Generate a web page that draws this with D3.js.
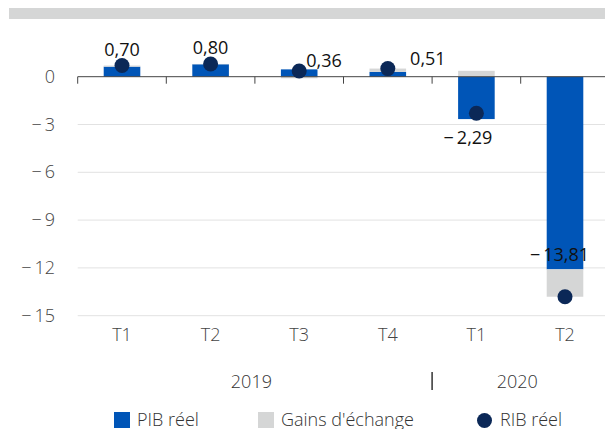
<!DOCTYPE html>
<html>
<head>
<meta charset="utf-8">
<script src="https://cdn.jsdelivr.net/npm/d3@7"></script>
<style>
  body { margin: 0; background: #fff; }
  svg { display: block; font-family: "Open Sans", sans-serif; }
</style>
</head>
<body>
<div id="chart"></div>
<script>
// data
const quarters = ["T1", "T2", "T3", "T4", "T1", "T2"];
const years = ["2019", "2019", "2019", "2019", "2020", "2020"];
const pib = [0.63, 0.78, 0.46, 0.30, -2.66, -12.09];
const gains = [0.07, 0.02, -0.10, 0.21, 0.37, -1.72];
const rib = [0.70, 0.80, 0.36, 0.51, -2.29, -13.81];
const yTicks = [0, -3, -6, -9, -12, -15];
const labelSide = ["above", "above", "right", "rightOfBar", "below", "left"];

const width = 605, height = 429;
const blue = "#0055b7", grey = "#d5d6d6", navy = "#0b2857";

const svg = d3.select("#chart").append("svg")
    .attr("width", width)
    .attr("height", height);

// banner strip on top
svg.append("rect")
    .attr("x", 9).attr("y", 8)
    .attr("width", width - 9).attr("height", 11)
    .attr("fill", "#d5d6d6");

const rows = quarters.map((q, i) => ({i: i, q: q, year: years[i], pib: pib[i], gains: gains[i], rib: rib[i]}));

const x = d3.scaleBand()
    .domain(d3.range(rows.length))
    .range([77.7, 609.3]);

const y = d3.scaleLinear()
    .domain([-15, 0])
    .range([315.7, 76.7]);

// grid
svg.append("g")
  .selectAll("line")
  .data(yTicks.filter(d => d !== 0))
  .enter().append("line")
    .attr("x1", 77.7).attr("x2", width)
    .attr("y1", d => y(d)).attr("y2", d => y(d))
    .style("stroke", "#e2e2e2")
    .style("stroke-width", "1px");

// y labels
const fmt = v => (v < 0 ? "\u2212\u2009" : "") + Math.abs(v);
svg.append("g")
  .selectAll("text")
  .data(yTicks)
  .enter().append("text")
    .attr("x", 55)
    .attr("y", d => y(d) + 6)
    .attr("text-anchor", "end")
    .style("font-size", "18px")
    .style("font-weight", 300)
    .style("fill", "#444")
    .text(fmt);

// stacked bars (diverging)
const stack = d3.stack()
    .keys(["pib", "gains"])
    .offset(d3.stackOffsetDiverging);
const series = stack(rows);
const colors = {pib: blue, gains: grey};
const barW = x.bandwidth() * 0.413;

svg.append("g")
  .selectAll("g")
  .data(series)
  .enter().append("g")
    .attr("fill", s => colors[s.key])
  .selectAll("rect")
  .data(s => s)
  .enter().append("rect")
    .attr("x", (d, i) => x(i) + x.bandwidth() / 2 - barW / 2)
    .attr("width", barW)
    .attr("y", d => y(Math.max(d[0], d[1])))
    .attr("height", d => Math.abs(y(d[0]) - y(d[1])));

// zero axis with ticks at band edges
const axis = svg.append("g");
axis.append("line")
    .attr("x1", 77.7).attr("x2", width)
    .attr("y1", y(0)).attr("y2", y(0))
    .style("stroke", "#444").style("stroke-width", "1px");
axis.selectAll("line.tick")
  .data(d3.range(rows.length))
  .enter().append("line")
    .attr("class", "tick")
    .attr("x1", i => x(i)).attr("x2", i => x(i))
    .attr("y1", y(0)).attr("y2", y(0) + 7)
    .style("stroke", "#444").style("stroke-width", "1px");

// RIB dots
svg.append("g")
  .selectAll("circle")
  .data(rows)
  .enter().append("circle")
    .attr("cx", d => x(d.i) + x.bandwidth() / 2)
    .attr("cy", d => y(d.rib))
    .attr("r", 7.5)
    .style("fill", navy);

// value labels
const valFmt = v => (v < 0 ? "\u2212\u2009" : "") + d3.format(".2f")(Math.abs(v)).replace(".", ",");
svg.append("g")
  .selectAll("text")
  .data(rows)
  .enter().append("text")
    .attr("x", d => {
      const cx = x(d.i) + x.bandwidth() / 2;
      const side = labelSide[d.i];
      if (side === "right") return cx + 7;
      if (side === "rightOfBar") return cx + barW / 2 + 4;
      if (side === "left") return cx + 24;
      if (side === "below") return cx + 16;
      return cx;
    })
    .attr("y", d => {
      const cy = y(d.rib);
      const side = labelSide[d.i];
      if (side === "above") return cy - 10;
      if (side === "below") return cy + 31;
      if (side === "left") return cy - 36;
      return cy - 4;
    })
    .attr("text-anchor", d => {
      const side = labelSide[d.i];
      if (side === "right" || side === "rightOfBar") return "start";
      if (side === "left" || side === "below") return "end";
      return "middle";
    })
    .style("font-size", "18px")
    .style("fill", "#111")
    .text(d => valFmt(d.rib));

// quarter labels
svg.append("g")
  .selectAll("text")
  .data(rows)
  .enter().append("text")
    .attr("x", d => x(d.i) + x.bandwidth() / 2)
    .attr("y", 341)
    .attr("text-anchor", "middle")
    .style("font-size", "18px")
    .style("font-weight", 300)
    .style("fill", "#444")
    .text(d => d.q);

// year labels
const yearGroups = d3.groups(rows, d => d.year).map(([yr, r]) => ({
  yr: yr,
  x0: x(r[0].i),
  x1: x(r[r.length - 1].i) + x.bandwidth()
}));
svg.append("g")
  .selectAll("text")
  .data(yearGroups)
  .enter().append("text")
    .attr("x", d => (d.x0 + d.x1) / 2 - 3.5)
    .attr("y", 388)
    .attr("text-anchor", "middle")
    .style("font-size", "18px")
    .style("font-weight", 300)
    .style("fill", "#333")
    .text(d => d.yr);
svg.append("line")
    .attr("x1", yearGroups[1].x0).attr("x2", yearGroups[1].x0)
    .attr("y1", 372).attr("y2", 390)
    .style("stroke", "#333").style("stroke-width", "1.5px");

// legend
const legend = [
  {name: "PIB réel", type: "rect", color: blue, x: 114},
  {name: "Gains d'échange", type: "rect", color: grey, x: 258},
  {name: "RIB réel", type: "dot", color: navy, x: 477}
];
const lg = svg.append("g")
  .selectAll("g")
  .data(legend)
  .enter().append("g")
    .attr("transform", d => "translate(" + d.x + ",426)");
lg.filter(d => d.type === "rect").append("rect")
    .attr("x", 0).attr("y", -14)
    .attr("width", 16).attr("height", 16)
    .attr("fill", d => d.color);
lg.filter(d => d.type === "dot").append("circle")
    .attr("cx", 7.5).attr("cy", -5.5)
    .attr("r", 7.5)
    .attr("fill", d => d.color);
lg.append("text")
    .attr("x", d => d.type === "dot" ? 23 : 23)
    .attr("y", 0)
    .style("font-size", "18px")
    .style("font-weight", 300)
    .style("fill", "#333")
    .text(d => d.name);
</script>
</body>
</html>
